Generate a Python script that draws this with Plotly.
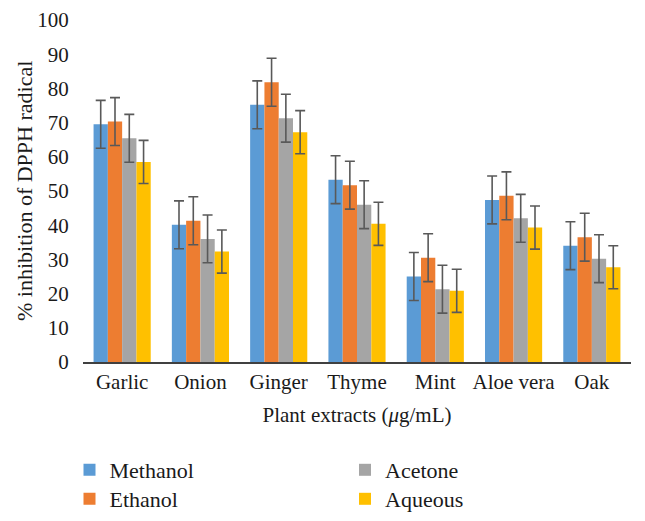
import plotly.graph_objects as go

categories = ["Garlic", "Onion", "Ginger", "Thyme", "Mint", "Aloe vera", "Oak"]
methanol = [69.5, 40.1, 75.2, 53.3, 25.0, 47.4, 34.0]
ethanol = [70.3, 41.3, 81.8, 51.7, 30.5, 48.6, 36.5]
acetone = [65.4, 36.0, 71.3, 46.0, 21.3, 42.0, 30.2]
aqueous = [58.5, 32.3, 67.2, 40.4, 20.8, 39.3, 27.7]
err_methanol = [7, 7, 7, 7, 7, 7, 7]
err_ethanol = [7, 7, 7, 7, 7, 7, 7]
err_acetone = [7, 7, 7, 7, 7, 7, 7]
err_aqueous = [6.3, 6.3, 6.3, 6.3, 6.3, 6.3, 6.3]

series = [
    ("Methanol", methanol, err_methanol, "#5B9BD5", "legend"),
    ("Ethanol", ethanol, err_ethanol, "#ED7D31", "legend2"),
    ("Acetone", acetone, err_acetone, "#A5A5A5", "legend3"),
    ("Aqueous", aqueous, err_aqueous, "#FFC000", "legend4"),
]

FONT = "Liberation Serif"
# page body has an 8px default margin, so the figure is 8px smaller
W, H = 637, 513
ML, MR, MT, MB = 75, 14, 12, 159

fig = go.Figure()
for name, vals, errs, color, lg in series:
    fig.add_trace(go.Bar(
        name=name, x=categories, y=vals, marker_color=color,
        marker_line_width=0, legend=lg,
        error_y=dict(type="data", array=errs, visible=True,
                     color="#595959", thickness=1.6, width=5),
    ))


def leg(px, py):
    return dict(
        orientation="v", font=dict(family=FONT, size=22, color="#1a1a1a"),
        bgcolor="rgba(0,0,0,0)", itemwidth=30,
        xref="container", yref="container",
        x=px / W, y=1 - py / H, xanchor="left", yanchor="top",
    )


fig.update_layout(
    width=W, height=H,
    margin=dict(l=ML, r=MR, t=MT, b=MB, autoexpand=False),
    paper_bgcolor="white", plot_bgcolor="white",
    barmode="group", bargap=0.27, bargroupgap=0,
    font=dict(family=FONT, size=21, color="#1a1a1a"),
    showlegend=True,
    legend=leg(61.5, 441),
    legend2=leg(61.5, 470),
    legend3=leg(337, 441),
    legend4=leg(337, 470),
    xaxis=dict(
        showline=True, linecolor="#404040", linewidth=1.6,
        ticks="", showgrid=False, zeroline=False, automargin=True,
        tickfont=dict(family=FONT, size=21),
        title=dict(text="Plant extracts (<i>μ</i>g/mL)", standoff=14,
                   font=dict(family=FONT, size=21)),
    ),
    yaxis=dict(
        range=[0, 100], dtick=10, showline=False, showgrid=False,
        zeroline=False, ticks="outside", ticklen=9, tickcolor="rgba(0,0,0,0)",
        automargin=False,
        tickfont=dict(family=FONT, size=21),
    ),
    annotations=[dict(
        text="% inhibition of DPPH radical", textangle=-90,
        xref="paper", yref="paper",
        x=(16 - ML) / (W - ML - MR), y=0.5,
        xanchor="center", yanchor="middle", showarrow=False,
        font=dict(family=FONT, size=22, color="#1a1a1a"),
    )],
)

fig.write_html("out.html")
